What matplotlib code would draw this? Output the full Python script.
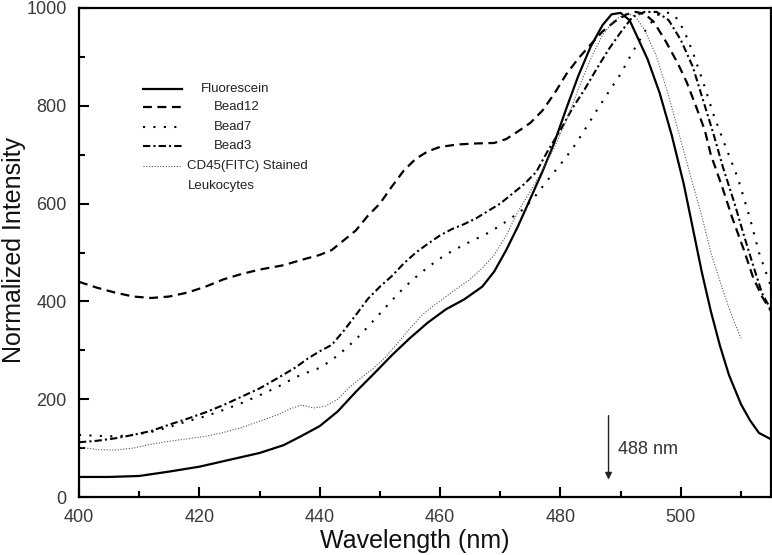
import matplotlib
matplotlib.use("Agg")
import matplotlib.pyplot as plt
from matplotlib.lines import Line2D
from matplotlib.ticker import MultipleLocator

plt.rcParams['font.family'] = ['Liberation Sans', 'DejaVu Sans']

# ---------------- data ----------------
fluor_x = [400, 405, 410, 415, 420, 425, 430, 434, 437, 440, 443, 446, 449, 452, 455, 458, 461, 464, 467,
           469, 471, 473, 475, 477, 479, 481, 483, 485, 487, 488.5, 490, 491.5, 493, 494.5, 496.5, 498.5,
           500.5, 502, 503.5, 505, 506.5, 508, 510, 511.5, 513, 515]
fluor_y = [41, 41, 43, 52, 62, 76, 90, 106, 125, 145, 175, 215, 252, 290, 325, 357, 384, 404, 430,
           461, 505, 555, 610, 665, 725, 795, 862, 920, 965, 987, 990, 975, 935, 895, 826, 740,
           640, 550, 460, 380, 310, 250, 190, 157, 131, 118]

bead12_x = [400, 403, 406, 409, 412, 415, 418, 421, 424, 427, 430, 434, 437, 440, 442, 444, 446, 448, 450,
            452, 454, 456, 458, 460, 463, 466, 469, 471, 473, 475, 477, 479, 481, 483, 485, 487, 489, 491,
            492.5, 494, 495.5, 497.5, 499.5, 501, 502.5, 504, 505, 507, 508.5, 510.5, 512, 513.5, 515]
bead12_y = [440, 428, 418, 410, 407, 410, 418, 430, 445, 456, 465, 474, 485, 495, 505, 525, 545, 575, 600,
            635, 668, 692, 707, 716, 721, 723, 724, 732, 748, 765, 790, 825, 865, 897, 925, 952, 972, 987,
            992, 988, 972, 932, 887, 848, 800, 750, 700, 630, 573, 505, 450, 410, 380]

bead7_x = [400, 403, 406, 409, 412, 415, 418, 421, 424, 427, 430, 433, 436, 438, 440, 442, 444, 446, 448,
           450, 452, 454, 456, 458, 460, 462, 464, 466, 468, 470, 472, 474, 476, 478, 480, 482, 484, 486,
           488, 490, 492, 494, 496, 497.5, 499, 500.5, 502, 504, 505.5, 507.5, 509.5, 511.5, 513, 515]
bead7_y = [127, 125, 124, 127, 133, 143, 155, 165, 178, 192, 208, 225, 245, 255, 264, 280, 300, 322, 348,
           375, 402, 428, 450, 470, 488, 503, 516, 528, 540, 555, 572, 590, 618, 650, 680, 712, 750, 790,
           828, 865, 910, 952, 985, 992, 985, 955, 910, 838, 780, 715, 652, 570, 500, 430]

bead3_x = [400, 403, 406, 409, 412, 415, 418, 421, 424, 427, 430, 433, 436, 438, 440, 442, 444, 446, 448,
           450, 452, 454, 456, 458, 460, 462, 464, 466, 468, 470, 472, 474, 476, 478, 480, 482, 484, 486,
           488, 490, 492, 494, 496, 498, 500, 502, 504, 505.5, 507, 509, 510.5, 512, 513.5, 515]
bead3_y = [112, 115, 120, 127, 135, 148, 160, 173, 188, 205, 222, 243, 265, 283, 298, 311, 340, 372, 405,
           430, 452, 478, 500, 518, 535, 548, 558, 570, 585, 600, 620, 640, 665, 710, 750, 795, 833, 875,
           915, 950, 982, 992, 992, 975, 935, 880, 800, 740, 675, 598, 535, 475, 417, 383]

cd45_x = [400, 403, 406, 409, 412, 415, 418, 421, 424, 427, 430, 433, 435, 437, 439, 441, 443, 445, 447,
          449, 451, 453, 455, 457, 459, 461, 463, 465, 467, 469, 471, 473, 475, 477, 479, 481, 483, 485,
          487, 489, 491, 492.5, 494, 496, 498, 500, 502, 503.5, 505, 507, 508.5, 510]
cd45_y = [102, 97, 96, 100, 108, 114, 119, 124, 132, 142, 155, 168, 180, 188, 182, 186, 200, 225, 245,
          264, 287, 315, 345, 372, 392, 410, 428, 445, 468, 495, 535, 585, 625, 668, 715, 770, 835, 895,
          945, 975, 990, 982, 955, 900, 820, 730, 640, 575, 500, 423, 370, 325]

labels = ["Fluorescein", "Bead12", "Bead7", "Bead3", "CD45(FITC) Stained\nLeukocytes"]
x_ticks = [400, 420, 440, 460, 480, 500]
y_ticks = [0, 200, 400, 600, 800, 1000]
excitation_nm = 488

# ---------------- figure ----------------
W, H = 772, 555
fig = plt.figure(figsize=(W / 100, H / 100), dpi=100)
L, R, T, B = 79, 771, 8, 497
ax = fig.add_axes([L / W, 1 - B / H, (R - L) / W, (B - T) / H])

styles = [
    dict(color='black', lw=1.6, ls='-'),
    dict(color='black', lw=1.6, ls=(0, (4, 2.5))),
    dict(color='black', lw=1.5, ls=(0, (1, 4))),
    dict(color='black', lw=1.5, ls=(0, (3.5, 1.5, 1, 1.5))),
    dict(color='#555555', lw=0.8, ls=(0, (1, 1.5))),
]
series = [(fluor_x, fluor_y), (bead12_x, bead12_y), (bead7_x, bead7_y), (bead3_x, bead3_y), (cd45_x, cd45_y)]
for (xs, ys), st in zip(series, styles):
    ax.plot(xs, ys, color=st['color'], lw=st['lw'], linestyle=st['ls'])

ax.set_xlim(400, 515)
ax.set_ylim(0, 1000)
ax.set_xticks(x_ticks)
ax.set_yticks(y_ticks)
ax.xaxis.set_minor_locator(MultipleLocator(10))
ax.yaxis.set_minor_locator(MultipleLocator(100))
ax.tick_params(which='major', direction='in', length=7, width=1.5, labelsize=13,
               labelcolor='#3a3a3a', pad=9)
ax.tick_params(which='minor', direction='in', length=4, width=1.5)
for s in ax.spines.values():
    s.set_linewidth(1.6)

ax.set_xlabel("Wavelength (nm)", fontsize=18, color='#111111')
ax.set_ylabel("Normalized Intensity", fontsize=18, color='#111111')
ax.xaxis.set_label_coords((415 - L) / (R - L), -0.066)
ax.yaxis.set_label_coords(-0.076, 0.505)

# arrow at 488 nm
ax.annotate("", xy=(excitation_nm, 30), xytext=(excitation_nm, 172),
            arrowprops=dict(arrowstyle='-|>', color='#222222', lw=1.0, mutation_scale=10))
ax.text(excitation_nm + 1.5, 98, "488 nm", fontsize=13, color='#333333', va='center', ha='left')

# manual legend (figure pixel positions)
rows = [89, 107, 127, 146, 166]
text_x = [201, 214, 214, 214, 187]
for (row, tx, lab, st) in zip(rows, text_x, labels, styles):
    fig.add_artist(Line2D([143 / W, 182 / W], [1 - row / H, 1 - row / H], transform=fig.transFigure,
                          color=st['color'], lw=st['lw'], linestyle=st['ls']))
    first, *rest = lab.split("\n")
    fig.text(tx / W, 1 - row / H, first, fontsize=9.5, color='#222222', va='center', ha='left')
    if rest:
        fig.text(188 / W, 1 - 186 / H, rest[0], fontsize=9.5, color='#222222', va='center', ha='left')

fig.savefig("out.png", dpi=100)
